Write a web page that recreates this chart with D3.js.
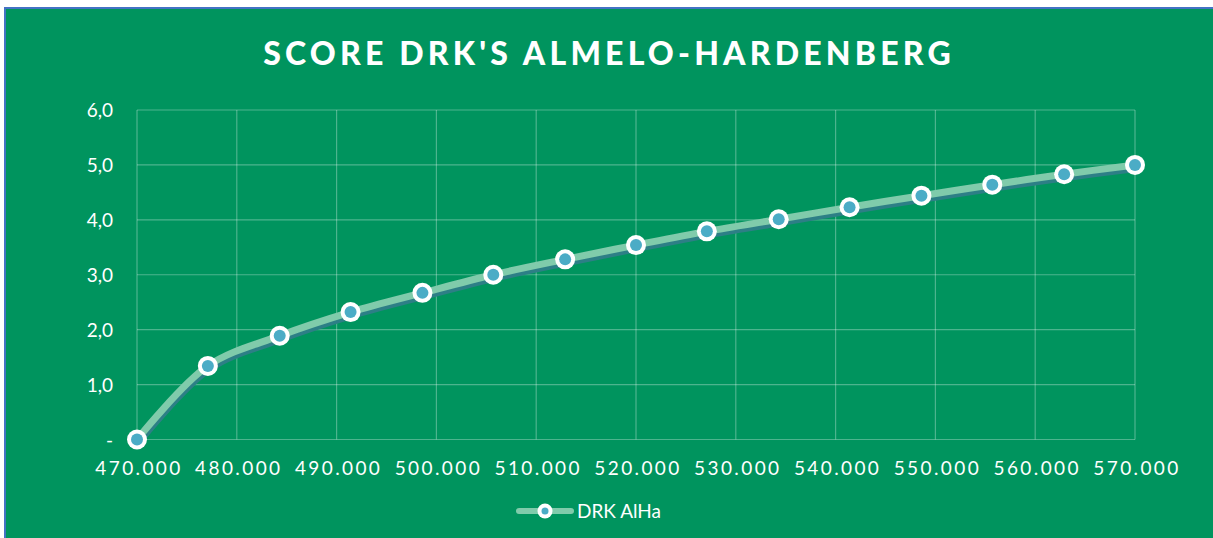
<!DOCTYPE html>
<html>
<meta charset="utf-8">
<style>
body { margin: 0; background: #fff; }
svg { display: block; }
text { font-family: Lato, "Open Sans", sans-serif; fill: #fff; }
</style>
<head>
<script src="https://d3js.org/d3.v7.min.js"></script>
</head>
<body>
<script>
// values
var xValues = [470000, 477100, 484300, 491400, 498600, 505700, 512900, 520000, 527100, 534300, 541400, 548600, 555700, 562900, 570000];
var scores  = [0, 1.34, 1.89, 2.32, 2.67, 3.0, 3.28, 3.54, 3.79, 4.01, 4.23, 4.44, 4.64, 4.83, 5.0];
var yTicks  = [0, 1, 2, 3, 4, 5, 6];
var xTicks  = [470000, 480000, 490000, 500000, 510000, 520000, 530000, 540000, 550000, 560000, 570000];
var seriesName = "DRK AlHa";
var title = "SCORE DRK'S ALMELO-HARDENBERG";

var W = 1213, H = 538;
var green = "#00945e";

var svg = d3.select("body").append("svg")
    .attr("width", W)
    .attr("height", H);

// chart background with the blue frame (cut off at right and bottom)
svg.append("rect")
    .attr("x", 5).attr("y", 8)
    .attr("width", W + 10).attr("height", H + 10)
    .attr("fill", green)
    .attr("stroke", "#4472c4")
    .attr("stroke-width", 2);

svg.append("text")
    .attr("x", 609).attr("y", 65)
    .attr("text-anchor", "middle")
    .style("font-size", "32px")
    .style("font-weight", "900")
    .style("letter-spacing", "4.2px")
    .text(title);

var x = d3.scaleLinear().domain([470000, 570000]).range([137, 1135]);
var y = d3.scaleLinear().domain([0, 6]).range([439.5, 110]);

var fmtX = function(d) { return d3.format(",")(d).replace(/,/g, "."); };
var fmtY = function(d) { return d === 0 ? "-" : d.toFixed(1).replace(".", ","); };

// grid
var grid = svg.append("g");
grid.selectAll("line.h")
    .data(yTicks)
  .enter().append("line")
    .attr("x1", x(470000)).attr("x2", x(570000))
    .attr("y1", function(d) { return y(d); })
    .attr("y2", function(d) { return y(d); })
    .attr("stroke", "rgba(255,255,255,0.3)")
    .attr("stroke-width", 1.2);
grid.selectAll("line.v")
    .data(xTicks)
  .enter().append("line")
    .attr("y1", y(0)).attr("y2", y(6))
    .attr("x1", function(d) { return x(d); })
    .attr("x2", function(d) { return x(d); })
    .attr("stroke", "rgba(255,255,255,0.3)")
    .attr("stroke-width", 1.2);

// axis labels
svg.append("g").selectAll("text")
    .data(yTicks)
  .enter().append("text")
    .attr("x", 113)
    .attr("y", function(d) { return y(d) + 7; })
    .attr("text-anchor", "end")
    .style("font-size", "19px")
    .text(fmtY);

svg.append("g").selectAll("text")
    .data(xTicks)
  .enter().append("text")
    .attr("x", function(d) { return x(d) + 2; })
    .attr("y", 475)
    .attr("text-anchor", "middle")
    .style("font-size", "19px")
    .style("letter-spacing", "2.4px")
    .text(fmtX);

// line with shadow
var pts = xValues.map(function(v, i) { return [v, scores[i]]; });
var line = d3.line()
    .x(function(d) { return x(d[0]); })
    .y(function(d) { return y(d[1]); })
    .curve(d3.curveCatmullRom.alpha(0.5));

svg.append("path")
    .attr("d", line(pts))
    .attr("transform", "translate(1,3.5)")
    .attr("fill", "none")
    .attr("stroke", "#2d7f86")
    .attr("stroke-width", 7)
    .attr("stroke-linecap", "round");

svg.append("path")
    .attr("d", line(pts))
    .attr("fill", "none")
    .attr("stroke", "#80cbab")
    .attr("stroke-width", 7)
    .attr("stroke-linecap", "round");

var dots = svg.append("g").selectAll("g")
    .data(pts)
  .enter().append("g")
    .attr("transform", function(d) { return "translate(" + x(d[0]) + "," + y(d[1]) + ")"; });
dots.append("circle").attr("r", 10).attr("fill", "#fff");
dots.append("circle").attr("r", 6).attr("fill", "#4bacc6");

// legend
var lg = svg.append("g").attr("transform", "translate(0,511)");
lg.append("line")
    .attr("x1", 519).attr("x2", 571)
    .attr("stroke", "#80cbab").attr("stroke-width", 6)
    .attr("stroke-linecap", "round");
lg.append("circle").attr("cx", 545).attr("r", 7.5).attr("fill", "#fff");
lg.append("circle").attr("cx", 545).attr("r", 3.5).attr("fill", "#4bacc6");
lg.append("text")
    .attr("x", 577).attr("y", 7)
    .style("font-size", "19px")
    .text(seriesName);
</script>
</body>
</html>
